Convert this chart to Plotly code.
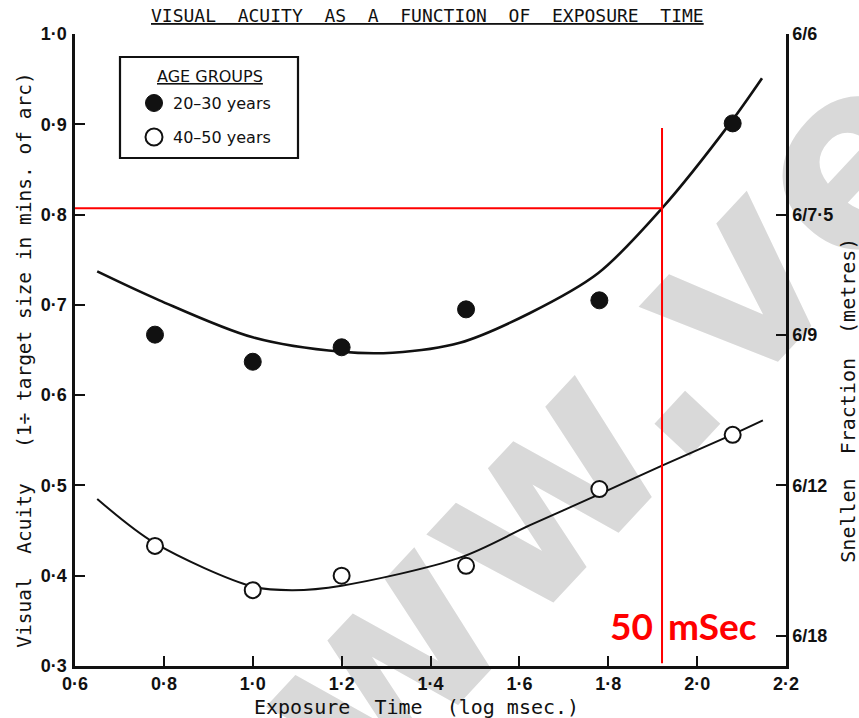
import plotly.graph_objects as go

# Exposure time (log msec) and mean visual acuity for each age group
exposure = [0.78, 1.0, 1.2, 1.48, 1.78, 2.08]
acuity_20_30 = [0.667, 0.637, 0.653, 0.695, 0.705, 0.901]
acuity_40_50 = [0.433, 0.384, 0.400, 0.411, 0.496, 0.556]

# Hand-fitted smooth curves through each group
fit_x_20_30 = [0.65, 0.79, 1.0, 1.2, 1.315, 1.466, 1.624, 1.777, 1.921, 2.074, 2.146]
fit_y_20_30 = [0.737, 0.705, 0.664, 0.648, 0.647, 0.658, 0.691, 0.735, 0.807, 0.901, 0.951]
fit_x_40_50 = [0.65, 0.78, 1.0, 1.09, 1.2, 1.466, 1.624, 1.779, 1.921, 2.078, 2.148]
fit_y_40_50 = [0.485, 0.436, 0.388, 0.384, 0.389, 0.420, 0.456, 0.490, 0.522, 0.556, 0.572]

# Axis ticks
x_ticks = [0.6, 0.8, 1.0, 1.2, 1.4, 1.6, 1.8, 2.0, 2.2]
x_ticktext = ["0·6", "0·8", "1·0", "1·2", "1·4", "1·6", "1·8", "2·0", "2·2"]
y_ticks = [0.3, 0.4, 0.5, 0.6, 0.7, 0.8, 0.9, 1.0]
y_ticktext = ["0·3", "0·4", "0·5", "0·6", "0·7", "0·8", "0·9", "1·0"]
snellen_vals = [1.0, 0.8, 6 / 9, 0.5, 6 / 18]
snellen_text = ["6/6", "6/7·5", "6/9", "6/12", "6/18"]

# Highlighted reading: acuity level and exposure time
mark_acuity = 0.807
mark_time = 1.921
mark_top = 0.896

INK = "#111111"
RED = "#ff0000"
MONO = "DejaVu Sans Mono"
SANS = "Liberation Sans"

fig = go.Figure()

fig.add_trace(go.Scatter(x=fit_x_20_30, y=fit_y_20_30, mode="lines",
                         line=dict(color=INK, width=2.6, shape="spline", smoothing=0.9),
                         showlegend=False, hoverinfo="skip"))
fig.add_trace(go.Scatter(x=fit_x_40_50, y=fit_y_40_50, mode="lines",
                         line=dict(color=INK, width=2.0, shape="spline", smoothing=0.9),
                         showlegend=False, hoverinfo="skip"))

# Red reference lines
fig.add_trace(go.Scatter(x=[0.6, mark_time], y=[mark_acuity, mark_acuity], mode="lines",
                         line=dict(color=RED, width=2), showlegend=False, hoverinfo="skip"))
fig.add_trace(go.Scatter(x=[mark_time, mark_time], y=[0.303, mark_top], mode="lines",
                         line=dict(color=RED, width=2), showlegend=False, hoverinfo="skip"))

fig.add_trace(go.Scatter(x=exposure, y=acuity_20_30, mode="markers", name="20–30 years",
                         marker=dict(symbol="circle", size=17, color=INK,
                                     line=dict(color=INK, width=1)),
                         showlegend=False))
fig.add_trace(go.Scatter(x=exposure, y=acuity_40_50, mode="markers", name="40–50 years",
                         yaxis="y2",
                         marker=dict(symbol="circle", size=16, color="white",
                                     line=dict(color=INK, width=2)),
                         showlegend=False))

tick_font = dict(family=SANS, size=18, color=INK, weight="bold")

fig.update_layout(
    width=859, height=718,
    margin=dict(l=75, r=73, t=34, b=52),
    paper_bgcolor="white", plot_bgcolor="white",
    xaxis=dict(range=[0.6, 2.2], tickvals=x_ticks, ticktext=x_ticktext,
               showline=True, linecolor=INK, linewidth=2.5,
               ticks="inside", ticklen=10, tickwidth=2, tickcolor=INK,
               showgrid=False, zeroline=False, tickfont=tick_font,
               ticklabelstandoff=0),
    yaxis=dict(range=[0.3, 1.0], tickvals=y_ticks, ticktext=y_ticktext,
               showline=True, linecolor=INK, linewidth=2.5,
               ticks="inside", ticklen=10, tickwidth=2, tickcolor=INK,
               showgrid=False, zeroline=False, tickfont=tick_font,
               ticklabelstandoff=2),
    yaxis2=dict(range=[0.3, 1.0], overlaying="y", side="right", anchor="x",
                tickvals=snellen_vals, ticktext=snellen_text,
                showline=True, linecolor=INK, linewidth=2.5,
                ticks="inside", ticklen=10, tickwidth=2, tickcolor=INK,
                showgrid=False, zeroline=False, tickfont=tick_font,
                ticklabelstandoff=0),
    showlegend=False,
)

# Faint diagonal watermark behind the data
fig.add_shape(type="rect", xref="paper", yref="paper",
              x0=0.588, x1=0.628, y0=0.249, y1=0.289, layer="below",
              line=dict(width=0), fillcolor="rgba(0,0,0,0)",
              label=dict(text="<b>www.ve</b>", textangle=-47, textposition="middle center",
                         font=dict(family="DejaVu Sans", size=255, color="#d9d9d9")))

annotations = [
    dict(text="<u>VISUAL  ACUITY  AS  A  FUNCTION  OF  EXPOSURE  TIME</u>",
         xref="paper", yref="paper", x=0.496, y=1.0, yshift=19,
         xanchor="center", yanchor="middle", showarrow=False,
         font=dict(family=MONO, size=18, color=INK)),
    dict(text="Visual  Acuity   (1÷ target size in mins. of arc)",
         xref="paper", yref="paper", x=-0.071, y=0.484, textangle=-90,
         xanchor="center", yanchor="middle", showarrow=False,
         font=dict(family=MONO, size=19.5, color=INK)),
    dict(text="Exposure  Time  (log msec.)",
         xref="paper", yref="paper", x=0.481, y=-0.0645,
         xanchor="center", yanchor="middle", showarrow=False,
         font=dict(family=MONO, size=20, color=INK)),
    dict(text="Snellen  Fraction  (metres)",
         xref="paper", yref="paper", x=1.086, y=0.42, textangle=-90,
         xanchor="center", yanchor="middle", showarrow=False,
         font=dict(family=MONO, size=20, color=INK)),
    dict(text="<b>50</b>", x=1.905, y=0.345, xanchor="right", yanchor="middle",
         showarrow=False, font=dict(family="Lato", size=37, color=RED)),
    dict(text="<b>mSec</b>", x=1.930, y=0.345, xanchor="left", yanchor="middle",
         showarrow=False, font=dict(family="Lato", size=37, color=RED)),
]

# Legend box drawn by hand: frame, heading, glyphs and labels
W, H = 859 - 75 - 73, 718 - 34 - 52


def px_x(p):
    return (p - 75) / W


def px_y(p):
    return (718 - 52 - p) / H


fig.add_shape(type="rect", xref="paper", yref="paper",
              x0=px_x(120), x1=px_x(298), y0=px_y(158), y1=px_y(57),
              line=dict(color=INK, width=2.2), fillcolor="white")
annotations.append(dict(text="<u>AGE GROUPS</u>", xref="paper", yref="paper",
                        x=px_x(210), y=px_y(76), xanchor="center", yanchor="middle",
                        showarrow=False, font=dict(family="DejaVu Sans", size=16, color=INK)))
legend_rows = [("20–30 years", 103, INK, 1), ("40–50 years", 137, "white", 2)]
for label, row_y, fill, lw in legend_rows:
    fig.add_shape(type="circle", xref="paper", yref="paper",
                  xsizemode="pixel", ysizemode="pixel",
                  xanchor=px_x(154), yanchor=px_y(row_y),
                  x0=-8.5, x1=8.5, y0=-8.5, y1=8.5,
                  line=dict(color=INK, width=lw), fillcolor=fill)
    annotations.append(dict(text=label, xref="paper", yref="paper",
                            x=px_x(171), y=px_y(row_y), xanchor="left", yanchor="middle",
                            showarrow=False,
                            font=dict(family="DejaVu Sans", size=16, color=INK)))

fig.update_layout(annotations=annotations)
fig.write_html("out.html")
